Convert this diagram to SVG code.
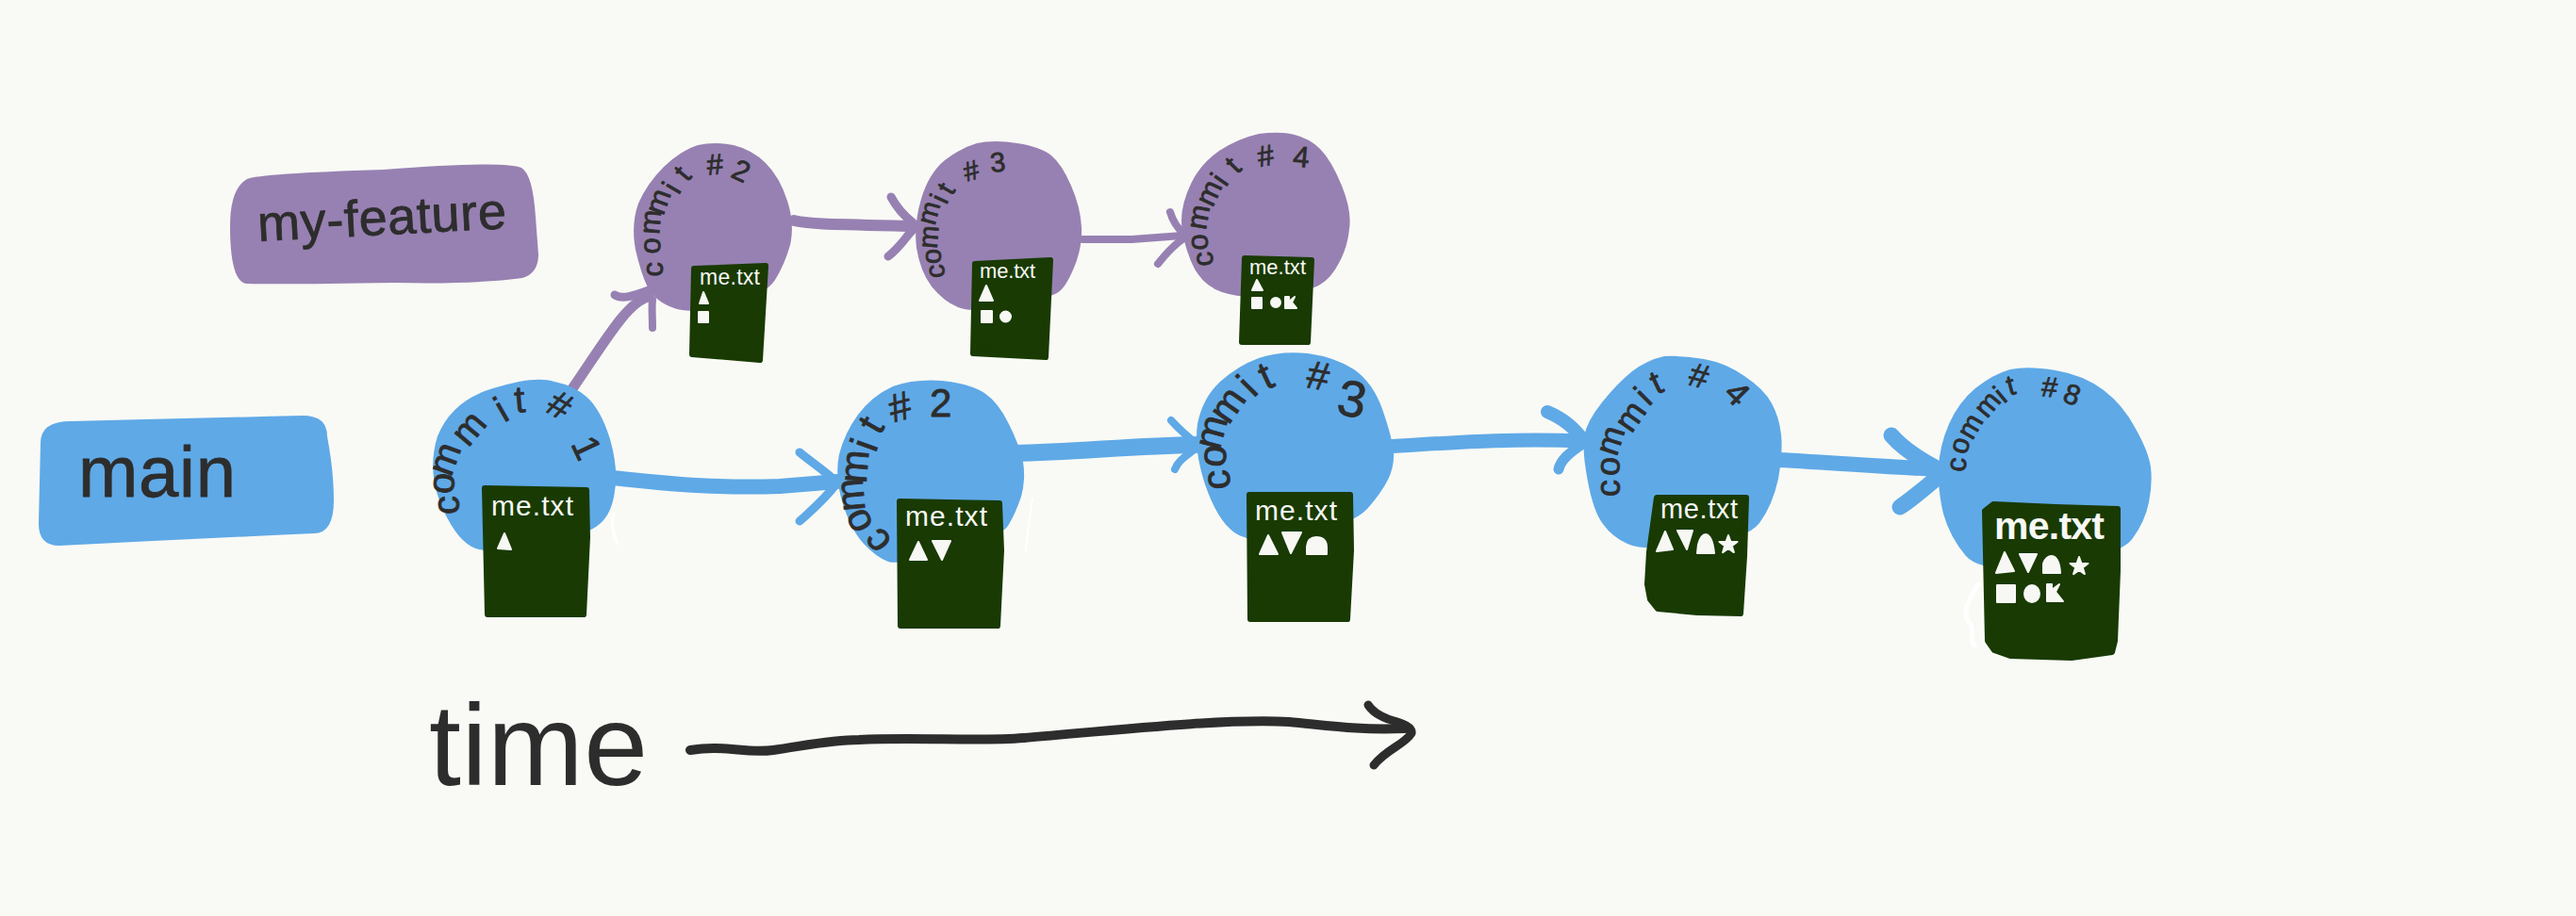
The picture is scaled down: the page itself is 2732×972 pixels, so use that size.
<svg xmlns="http://www.w3.org/2000/svg" width="2732" height="972" viewBox="0 0 2732 972">
<style>
.blue{fill:#5fa9e7}
.purple{fill:#9781b2}
.file{fill:#193a03;stroke:#193a03;stroke-width:6;stroke-linejoin:round}
.s{fill:#f7f8f4;stroke:#f7f8f4;stroke-width:2;stroke-linejoin:round}
.fn{font-family:"Liberation Sans",Arial,sans-serif;fill:#f7f8f4}
.ink{font-family:"Liberation Sans",Arial,sans-serif;fill:#2d2d2d;stroke:#2d2d2d;stroke-width:.8;stroke-linejoin:round}
.cb{fill:none;stroke:#5fa9e7;stroke-linecap:round;stroke-linejoin:round}
.cp{fill:none;stroke:#9781b2;stroke-linecap:round;stroke-linejoin:round}
.scr{fill:none;stroke:#ffffff;stroke-linecap:round}
</style>
<defs>
<polygon id="star" class="s" points="0,-10 2.400,-3.200 9.500,-3.100 3.800,1.200 5.900,8.100 0,4 -5.900,8.100 -3.800,1.200 -9.500,-3.100 -2.400,-3.200"/>
</defs>
<rect width="2732" height="972" fill="#f9faf5"/>

<g id="connectors">
<path class="cp" stroke-width="11" d="M606 414C640 365 665 320 688 315"/>
<path class="cp" stroke-width="9" d="M652 313C660 318 672 314 688 308"/>
<path class="cp" stroke-width="8" d="M692 348C692 335 691 328 692 318"/>
<path class="cp" stroke-width="12" d="M842 234C860 238 876 238 970 240"/>
<path class="cp" stroke-width="9" d="M945 209C952 222 960 230 968 236"/>
<path class="cp" stroke-width="9" d="M942 272C955 262 960 252 968 244"/>
<path class="cp" stroke-width="8" d="M1148 254L1200 254L1254 250"/>
<path class="cp" stroke-width="8" d="M1241 225C1244 235 1248 240 1254 247"/>
<path class="cp" stroke-width="8" d="M1228 280C1236 270 1245 260 1254 254"/>

<path class="cb" stroke-width="16" d="M650 507C720 515 770 518 827 516L888 511"/>
<path class="cb" stroke-width="9" d="M848 480C860 490 875 500 888 512"/>
<path class="cb" stroke-width="9" d="M848 553C860 542 875 530 888 512"/>
<path class="cb" stroke-width="18" d="M1075 481C1140 480 1200 473 1268 472"/>
<path class="cb" stroke-width="8" d="M1242 446C1250 455 1258 462 1268 470"/>
<path class="cb" stroke-width="8" d="M1246 498C1250 488 1258 484 1268 476"/>
<path class="cb" stroke-width="15" d="M1470 474C1540 470 1590 465 1682 468"/>
<path class="cb" stroke-width="14" d="M1641 437C1660 445 1670 455 1680 468"/>
<path class="cb" stroke-width="11" d="M1653 498C1655 488 1665 480 1680 470"/>
<path class="cb" stroke-width="16" d="M1885 488C1950 491 2000 496 2060 498"/>
<path class="cb" stroke-width="17" d="M2006 462C2020 478 2040 490 2060 500"/>
<path class="cb" stroke-width="17" d="M2015 538C2030 528 2045 515 2060 502"/>
</g>

<g id="label-my-feature">
<path class="purple" d="M244 240Q244 200 262 190Q275 184 407 180Q535 170 553 178Q565 185 568 230L571 270Q571 290 554 295Q500 302 419 300Q300 302 262 301Q244 300 244 240Z"/>
<text class="ink" font-size="54" x="274" y="256" textLength="264" transform="rotate(-3 274 256)">my-feature</text>
</g>
<g id="label-main">
<path class="blue" d="M43 470Q43 447 75 447Q200 444 321 441Q347 441 347 463Q354 500 354 531Q354 566 333 566Q200 572 63 579Q41 579 41 556Q42 510 43 470Z"/>
<text class="ink" font-size="76" x="83" y="527" textLength="167">main</text>
</g>

<g id="commit-1">
<path class="blue" d="M588 405Q608 409 622 421Q637 434 647 466Q656 498 652 521Q649 545 636 556Q623 568 570 579Q517 590 500 580Q482 570 467 534Q453 498 464 463Q479 425 523 412Q568 398 588 405Z"/>
<text class="ink" font-size="40" x="486.500 480.500 478.200 496.400 534.400 546.800 560 577.200 604.900" y="546 524.900 507.100 475.400 448.800 437.900 430 436 470.800" rotate="-90 -85 -70 -50 -30 -5 0 30 65">commit #1</text>
<path class="file" d="M514 518L622 520L623 570L619 652L517 652Z"/>
<text class="fn" font-size="30" x="521" y="547" textLength="87">me.txt</text>
<polygon class="s" points="535,566 528,582 542,583"/>
</g>

<g id="commit-2-blue">
<path class="blue" d="M999 404Q1028 407 1044 417Q1059 427 1070 450Q1081 472 1085 490Q1088 509 1083 527Q1077 545 1069 558Q1061 570 1008 585Q956 600 942 596Q929 591 916 577Q903 563 894 535Q885 506 890 482Q896 459 910 440Q925 420 947 410Q970 402 999 404Z"/>
<text class="ink" font-size="42" x="947.200 926.800 917.600 918.400 928.600 933 940 946.700 986" y="574.100 557.900 541.500 513.500 481.300 462.700 445 448.500 442" rotate="-130 -115 -95 -85 -70 -60 0 -15 0">commit #2</text>
<path class="file" d="M954 532L1060 534L1062 584L1058 664L955 664Z"/>
<text class="fn" font-size="30" x="960" y="558" textLength="87">me.txt</text>
<polygon class="s" points="974,575 965,594 983,594"/>
<polygon class="s" points="989,574 1008,574 999,594"/>
</g>

<g id="commit-3-blue">
<path class="blue" d="M1387 375Q1416 379 1436 392Q1456 406 1466 434Q1476 463 1478 479Q1479 495 1472 509Q1465 523 1450 540Q1434 557 1380 568Q1327 579 1309 565Q1291 552 1278 514Q1266 477 1270 450Q1275 423 1294 405Q1313 388 1335 380Q1358 372 1387 375Z"/>
<text class="ink" font-size="42" x="1304.900 1299 1293.200 1303 1329.400 1342.900 1360 1384" y="518.500 496.500 478.800 451.700 422.800 414 410 410.700" rotate="-95 -85 -75 -55 -45 -25 0 10">commit #<tspan font-size="54" x="1416" y="439" rotate="10">3</tspan></text>
<path class="file" d="M1325 525L1432 525L1433 584L1429 657L1326 657Z"/>
<text class="fn" font-size="30" x="1331" y="552" textLength="87">me.txt</text>
<polygon class="s" points="1345,568 1336,588 1355,588"/>
<polygon class="s" points="1360,565 1380,565 1369,587"/>
<path class="s" d="M1386 588L1386 580Q1387 570 1396 570Q1407 570 1407 581L1407 588Z"/>
</g>

<g id="commit-4-blue">
<path class="blue" d="M1807 381Q1830 385 1850 399Q1871 413 1879 428Q1887 443 1889 461Q1891 480 1886 508Q1880 536 1866 555Q1852 573 1797 579Q1742 585 1726 577Q1710 570 1700 556Q1690 543 1684 511Q1678 480 1680 463Q1683 447 1699 427Q1715 407 1731 394Q1747 382 1765 378Q1784 377 1807 381Z"/>
<text class="ink" font-size="36" x="1717.500 1716.600 1714.400 1730.200 1748.400 1757 1775 1788.900 1826.700" y="527 505.800 485.200 460.700 432 418.900 410 408 419.100" rotate="-90 -85 -72 -55 -45 -25 0 15 45">commit #4</text>
<path class="file" d="M1757 528L1852 528L1850 590L1846 651L1800 650L1758 646L1750 636L1747 620L1749 586Z"/>
<text class="fn" font-size="29" x="1761" y="550" textLength="82">me.txt</text>
<polygon class="s" points="1766,564 1757,585 1774,583"/>
<polygon class="s" points="1779,563 1795,563 1789,583"/>
<path class="s" d="M1800 587L1801 578Q1804 567 1809 567Q1816 568 1818 587Z"/>
<use href="#star" x="1833" y="578"/>
</g>

<g id="commit-8-blue">
<path class="blue" d="M2180 393Q2210 398 2231 414Q2252 430 2265 455Q2279 480 2281 496Q2283 513 2279 533Q2275 553 2262 571Q2249 590 2176 600Q2103 610 2085 590Q2068 570 2061 545Q2055 520 2056 496Q2057 473 2067 450Q2077 427 2095 412Q2114 397 2132 392Q2151 388 2180 393Z"/>
<text class="ink" font-size="30" x="2084.300 2085.600 2091.700 2107.200 2125.300 2131 2150 2164.500 2186.300" y="501.200 483.300 467.900 444.700 428.700 419.700 415 420.300 425.400" rotate="-85 -75 -60 -50 -40 -15 0 5 20">commit #8</text>
<path class="file" d="M2105 542L2114 535L2180 538L2246 540L2246 606L2243 680L2240 692L2197 698L2132 696L2115 690L2108 680Z"/>
<text class="fn" font-size="41" font-weight="700" x="2115" y="572" textLength="117">me.txt</text>
<polygon class="s" points="2126,586 2117,608 2136,606"/>
<polygon class="s" points="2142,588 2160,588 2151,607"/>
<path class="s" d="M2167 608L2167 598Q2170 590 2176 590Q2184 591 2185 608Z"/>
<use href="#star" x="2205" y="601"/>
<rect class="s" x="2118" y="621" width="19" height="18"/>
<ellipse class="s" cx="2155" cy="630" rx="8" ry="9"/>
<polygon class="s" points="2171,620 2176,620 2176,626 2184,620 2180,628 2188,638 2171,638"/>
</g>

<g id="commit-2-purple">
<path class="purple" d="M778 154Q798 159 812 173Q827 188 835 213Q843 238 838 260Q832 281 822 297Q812 313 773 323Q735 334 715 327Q695 320 687 305Q680 291 674 265Q669 238 677 216Q686 195 704 177Q723 159 740 154Q758 150 778 154Z"/>
<text class="ink" font-size="31" x="703 699.700 698.900 703.200 719.800 728.900 740 750.500 773.700" y="293.500 269.800 249.200 229.500 207.500 194.100 180 185.800 187.300" rotate="-90 -88 -85 -70 -60 -50 0 -5 25">commit #2</text>
<path class="file" d="M736 285L812 282L806 382L734 376Z"/>
<text class="fn" font-size="23" x="742" y="302" textLength="64">me.txt</text>
<polygon class="s" points="746,310 742,322 751,322"/>
<rect class="s" x="741" y="331" width="10" height="11"/>
</g>

<g id="commit-3-purple">
<path class="purple" d="M1079 152Q1104 156 1115 165Q1126 174 1136 197Q1146 220 1147 241Q1148 263 1139 284Q1130 306 1121 311Q1112 316 1072 324Q1032 333 1016 326Q1001 320 988 304Q976 288 972 263Q969 238 977 211Q985 184 1002 170Q1019 157 1036 152Q1054 148 1079 152Z"/>
<text class="ink" font-size="29" x="1002.100 997.500 993.500 991.200 1003.800 1009.700 1015 1024.800 1050.900" y="294.300 280 264.200 240 217.900 208.500 195 192.800 182.700" rotate="-95 -90 -85 -75 -65 -60 0 -15 -5">commit #3</text>
<path class="file" d="M1034 280L1114 276L1109 379L1032 375Z"/>
<text class="fn" font-size="22" x="1039" y="295" textLength="59">me.txt</text>
<polygon class="s" points="1046,303 1039,319 1053,319"/>
<rect class="s" x="1041" y="330" width="11" height="12"/>
<circle class="s" cx="1066.500" cy="336" r="5.500"/>
</g>

<g id="commit-4-purple">
<path class="purple" d="M1373 143Q1389 147 1400 158Q1412 170 1423 197Q1434 224 1431 243Q1429 263 1420 279Q1412 295 1400 302Q1389 309 1354 313Q1320 318 1296 310Q1273 302 1263 277Q1253 252 1253 234Q1253 216 1263 195Q1273 174 1293 160Q1313 147 1335 142Q1358 139 1373 143Z"/>
<text class="ink" font-size="31" x="1286.700 1281 1278.700 1286 1300 1312 1325 1335.600 1370.500" y="281.800 265.500 244.700 220.800 199.200 185.600 175 177.300 176.300" rotate="-95 -90 -80 -65 -55 -45 0 -10 5">commit #4</text>
<path class="file" d="M1320 274L1391 276L1387 363L1317 363Z"/>
<text class="fn" font-size="22" x="1325" y="291" textLength="60">me.txt</text>
<polygon class="s" points="1333,297 1328,308 1339,308"/>
<rect class="s" x="1328" y="316" width="10" height="11"/>
<circle class="s" cx="1353" cy="321" r="5"/>
<polygon class="s" points="1363,315 1367,315 1367,320 1373,315 1370,321 1375,327 1363,327"/>
</g>

<g id="time-axis">
<text class="ink" font-size="122" x="455" y="833" textLength="232" style="stroke-width:0">time</text>
<path fill="none" stroke="#2d2d2d" stroke-width="10" stroke-linecap="round" stroke-linejoin="round" d="M732 796C770 790 790 800 820 796C850 792 880 785 911 785C970 782 1040 787 1086 783C1180 775 1300 762 1367 766C1410 770 1440 775 1490 773"/>
<path fill="none" stroke="#2d2d2d" stroke-width="9" stroke-linecap="round" stroke-linejoin="round" d="M1451 748C1456 756 1464 760 1472 763C1490 768 1498 772 1497 778C1490 790 1470 795 1457 812"/>
</g>

<g id="scribbles">
<path class="scr" stroke-width="3" d="M651 545C648 555 650 568 655 577"/>
<path class="scr" stroke-width="2" d="M1095 530C1093 545 1090 555 1088 585"/>
<path class="scr" stroke-width="5" d="M2098 620C2085 640 2080 655 2090 662C2095 670 2088 680 2094 685"/>
</g>
</svg>
